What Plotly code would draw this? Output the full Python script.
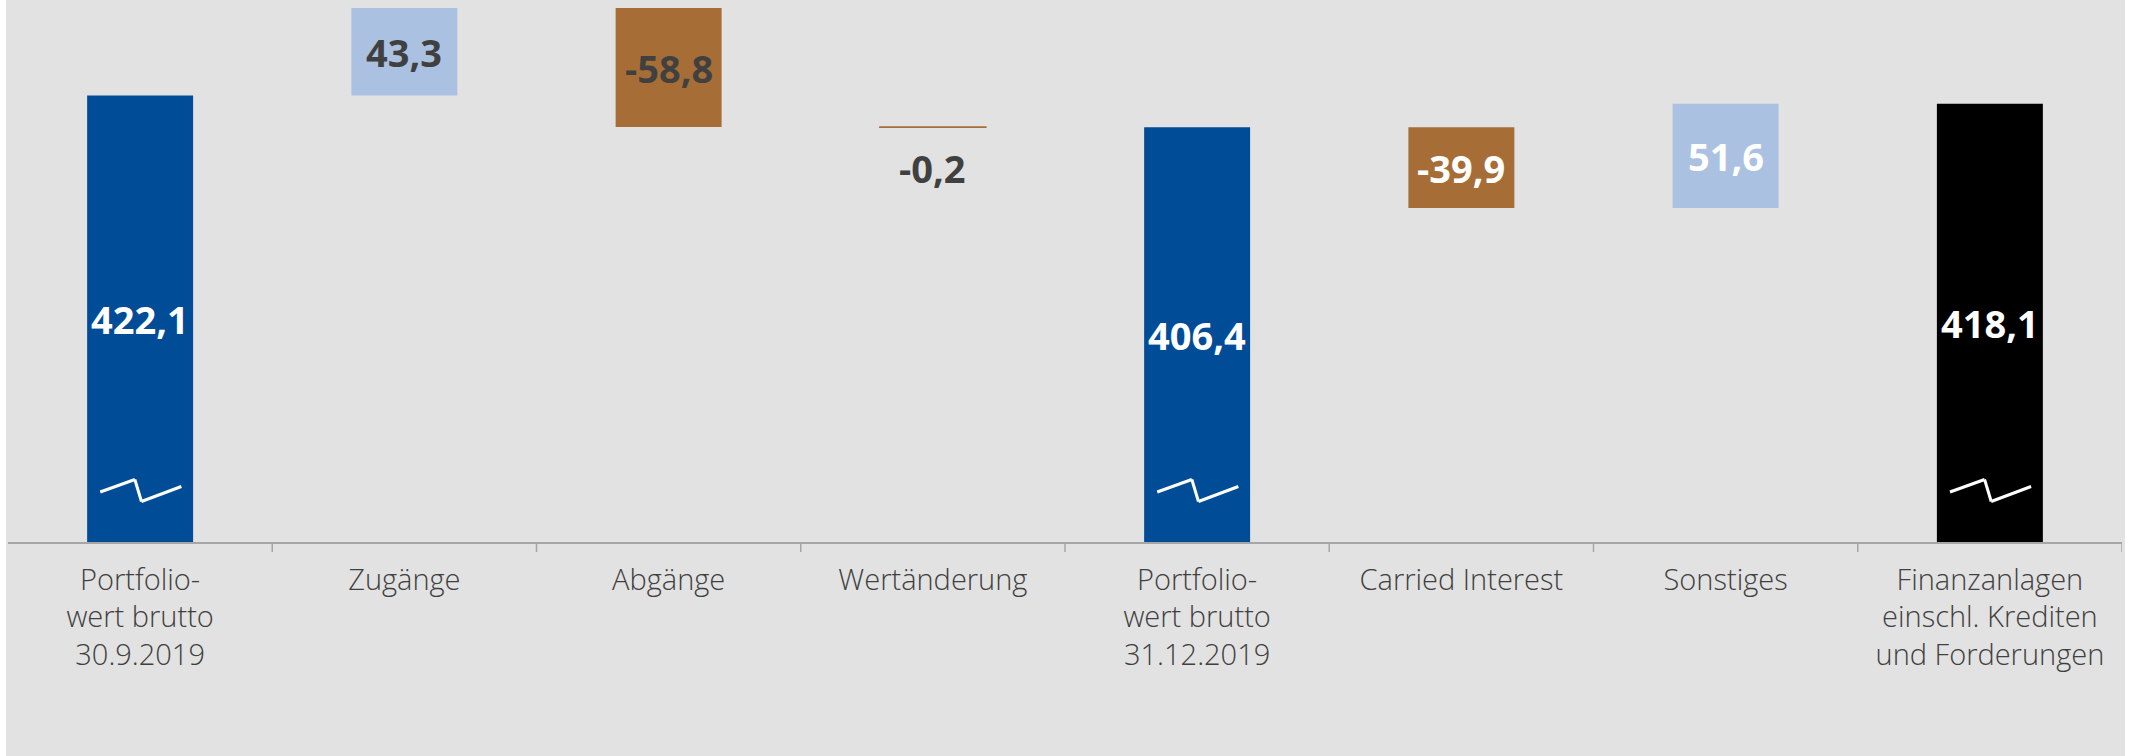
import plotly.graph_objects as go

categories = [
    "Portfolio-<br>wert brutto<br>30.9.2019",
    "Zugänge",
    "Abgänge",
    "Wertänderung",
    "Portfolio-<br>wert brutto<br>31.12.2019",
    "Carried Interest",
    "Sonstiges",
    "Finanzanlagen<br>einschl. Krediten<br>und Forderungen",
]
values = [422.1, 43.3, -58.8, -0.2, 406.4, -39.9, 51.6, 418.1]
measures = ["total", "delta", "delta", "delta", "total", "delta", "delta", "total"]
labels = ["422,1", "43,3", "-58,8", "-0,2", "406,4", "-39,9", "51,6", "418,1"]
bar_colors = ["#004c97", "#abc1e2", "#a66e36", "#a66e36", "#004c97", "#a66e36", "#abc1e2", "#000000"]
label_colors = ["#ffffff", "#404040", "#404040", "#404040", "#ffffff", "#ffffff", "#ffffff", "#ffffff"]

Y_MIN, Y_MAX = 201.3, 469.4

# running waterfall bases
bases, heights = [], []
running = 0.0
for v, m in zip(values, measures):
    if m == "total":
        bases.append(0.0)
        heights.append(v)
        running = v
    else:
        bases.append(running)
        heights.append(v)
        running = running + v

fig = go.Figure()
fig.add_trace(go.Bar(
    x=categories, y=heights, base=bases,
    marker=dict(color=bar_colors,
                line=dict(color=bar_colors, width=[0, 0, 0, 1.5, 0, 0, 0, 0])),
    width=0.401, hoverinfo="skip", showlegend=False,
))

annotations = []
for i, (c, b, h, m) in enumerate(zip(categories, bases, heights, measures)):
    lo = max(min(b, b + h), Y_MIN)
    hi = max(b, b + h)
    if abs(h) < 1:
        y, ys = lo, -41
    else:
        y, ys = (lo + hi) / 2, 0
    annotations.append(dict(
        x=c, y=y, xref="x", yref="y", yshift=ys, text=labels[i], showarrow=False,
        font=dict(family="Open Sans", size=38, color=label_colors[i], weight="bold"),
        xanchor="center", yanchor="middle",
    ))

shapes = []
# background panel
shapes.append(dict(type="rect", xref="paper", yref="paper",
                   x0=(6 - 8) / 2114, x1=(2125 - 8) / 2114, y0=-214 / 542, y1=1.0,
                   fillcolor="#e2e2e2", line=dict(width=0), layer="below"))
# category boundary ticks
for k in range(len(categories)):
    shapes.append(dict(type="line", xref="x", yref="paper", x0=k + 0.5, x1=k + 0.5,
                       y0=0, y1=-10 / 542, line=dict(color="#a6a6a6", width=1.5)))
# axis break marks on total bars
zx = [-0.151, -0.020, 0.005, 0.156]
zy = [1 - 492 / 542, 1 - 479.5 / 542, 1 - 501.5 / 542, 1 - 486.5 / 542]
for i, m in enumerate(measures):
    if m == "total":
        for j in range(3):
            shapes.append(dict(type="line", xref="x", yref="paper",
                               x0=i + zx[j], x1=i + zx[j + 1], y0=zy[j], y1=zy[j + 1],
                               line=dict(color="white", width=3)))

fig.update_layout(
    width=2129, height=756,
    margin=dict(l=8, r=7, t=0, b=214),
    paper_bgcolor="white", plot_bgcolor="rgba(0,0,0,0)",
    annotations=annotations, shapes=shapes,
    xaxis=dict(type="category", showgrid=False, zeroline=False, showline=True,
               linecolor="#a6a6a6", linewidth=1.5, ticks="", ticklabelstandoff=11,
               tickfont=dict(family="Open Sans", size=29, color="#404040", weight=300),
               range=[-0.5, 7.5]),
    yaxis=dict(range=[Y_MIN, Y_MAX], visible=False, showgrid=False, zeroline=False),
)

fig.write_html("out.html", config={"displayModeBar": False},
               post_script="document.body.style.margin='0px';")
